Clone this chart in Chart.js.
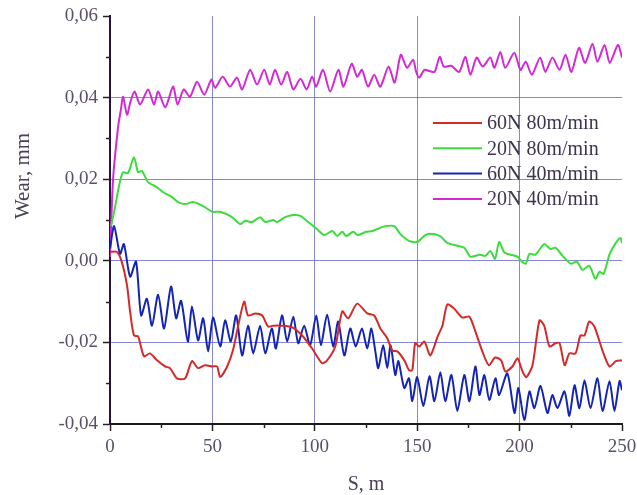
<!DOCTYPE html>
<html>
<head>
<meta charset="utf-8">
<script src="https://cdn.jsdelivr.net/npm/chart.js@4"></script>
<style>
  body { margin: 0; background: #fff; }
  canvas { display: block; }
</style>
</head>
<body>
<canvas id="wearChart" width="637" height="495"></canvas>
<script>
// sliding distance (m) and wear (mm) for each test
const sRed = [0, 3.3, 5.7, 8.3, 9.8, 11.7, 13.7, 16.6, 19.5, 23,
    26.9, 29.3, 32.7, 36.7, 40, 43, 46.4, 50, 52.3, 53.8,
    57.2, 60, 62.6, 65.5, 67.4, 70.9, 74.3, 77.2, 79.7, 84,
    89, 93.8, 98.7, 103.6, 106, 110, 113.4, 116.3, 120.7, 125.6,
    129, 132, 135.4, 137.8, 140.3, 143.7, 146, 147.6, 149, 151,
    153.5, 156.4, 160, 162.3, 164.7, 168, 172, 175.5, 178.4, 181.8,
    185, 188, 191, 193, 196.5, 199, 201.4, 203.3, 206.3, 209.7,
    212, 214.6, 217.5, 219.5, 222, 224.3, 227.3, 229.7, 231.7, 234,
    236.5, 240.5, 243.9, 247, 250];
const wearRed = [0.0022, 0.0022, -0.0002, -0.006, -0.0124, -0.0183, -0.0185, -0.0234, -0.0227, -0.0244,
    -0.0259, -0.0263, -0.0288, -0.0288, -0.0246, -0.0263, -0.0256, -0.0259, -0.0259, -0.0285,
    -0.0259, -0.022, -0.0159, -0.0100, -0.0134, -0.0129, -0.0134, -0.0161, -0.0159, -0.0159,
    -0.0163, -0.0183, -0.0215, -0.0251, -0.0244, -0.021, -0.0124, -0.0141, -0.0105, -0.0129,
    -0.0134, -0.0166, -0.019, -0.022, -0.0222, -0.0244, -0.0268, -0.0268, -0.0202, -0.021,
    -0.0198, -0.0232, -0.0185, -0.0159, -0.0107, -0.0117, -0.0139, -0.0137, -0.0173, -0.0222,
    -0.0256, -0.0237, -0.0244, -0.0271, -0.0259, -0.0239, -0.0271, -0.0285, -0.0256, -0.0146,
    -0.0159, -0.021, -0.0202, -0.0202, -0.0256, -0.0227, -0.0227, -0.0183, -0.0183, -0.0149,
    -0.0161, -0.022, -0.0259, -0.0246, -0.0244];

const sGreen = [0.5, 2, 4.9, 6.4, 8.8, 11.7, 13.7, 15.6, 18.6, 23,
    26, 30.3, 33.2, 36.7, 40.6, 45.5, 50, 53.8, 59.6, 63.5,
    66, 69.4, 73.3, 75.8, 79.7, 81.6, 85.5, 89.5, 92.9, 96.8,
    101, 104.6, 108.5, 111, 113.4, 115.4, 118.8, 121, 125, 128,
    131.5, 134.4, 138.8, 141.7, 146, 150, 153.5, 156, 161, 164.7,
    169.6, 173, 176, 180.4, 183.3, 185.7, 188, 190, 192.6, 195.5,
    199, 200.4, 203, 204.8, 207.7, 212, 215, 217.5, 221, 225,
    228, 230.7, 234, 237, 239, 241, 244, 247, 249.3, 250];
const wearGreen = [0.0085, 0.012, 0.0195, 0.0217, 0.0215, 0.0254, 0.0217, 0.022, 0.0193, 0.018,
    0.0168, 0.0156, 0.0144, 0.0139, 0.0144, 0.0134, 0.012, 0.012, 0.0107, 0.009,
    0.0098, 0.0095, 0.0107, 0.0095, 0.010, 0.0095, 0.0107, 0.0112, 0.011, 0.0095,
    0.0078, 0.0063, 0.0073, 0.0061, 0.0071, 0.0061, 0.0071, 0.0063, 0.0071, 0.0073,
    0.008, 0.0085, 0.0085, 0.0066, 0.0049, 0.0046, 0.0061, 0.0066, 0.0061, 0.0044,
    0.0037, 0.0032, 0.001, 0.0015, 0.0012, 0.0024, 0.0005, 0.0046, 0.002, 0.0015,
    0.001, 0.0002, -0.0007, 0.0017, 0.0015, 0.0041, 0.0029, 0.0032, 0.0012, -0.0007,
    -0.0002, -0.0022, -0.0012, -0.0044, -0.0027, -0.0032, 0.0017, 0.0044, 0.0056, 0.0043];

const sBlue = [0, 2, 4.9, 6.8, 9.8, 12.7, 15.2, 18, 20.5, 23.5,
    26.4, 29.8, 32.3, 34.7, 38, 40, 43, 45.5, 47.9, 50.3,
    53.8, 56.2, 59, 61.6, 64.5, 67.4, 69.9, 73.3, 75.8, 79,
    81, 84, 86.5, 89.5, 91.9, 94.8, 97.7, 100.7, 103, 106,
    109, 111.4, 114.4, 117.3, 120, 123, 125.6, 127.6, 129.5, 131,
    133.4, 135.4, 137, 139.3, 140.8, 143.7, 146, 147.6, 150, 153,
    156, 158.4, 161.3, 163.7, 166.7, 169.6, 173, 175.5, 178.4, 180.4,
    182.8, 185.2, 188.2, 190, 194, 197.5, 199.4, 202.3, 204.8, 207.2,
    210.2, 213.6, 216, 218.5, 221.9, 224.3, 226.8, 229.2, 231.7, 234.6,
    238, 240.5, 243.9, 246.3, 248.8, 250];
const wearBlue = [0.003, 0.0085, 0.0017, 0.0041, -0.0039, -0.0002, -0.0134, -0.0093, -0.0159, -0.0083,
    -0.0166, -0.0063, -0.0141, -0.0098, -0.0198, -0.0112, -0.0195, -0.0141, -0.0222, -0.0139,
    -0.021, -0.0146, -0.0198, -0.0134, -0.0232, -0.0159, -0.0227, -0.0159, -0.0227, -0.0166,
    -0.0215, -0.0134, -0.0198, -0.0137, -0.0202, -0.0159, -0.0207, -0.0134, -0.0207, -0.0132,
    -0.021, -0.0149, -0.0232, -0.0166, -0.021, -0.0166, -0.0215, -0.0166, -0.022, -0.0263,
    -0.0207, -0.0263, -0.0207, -0.028, -0.0246, -0.0312, -0.0288, -0.0344, -0.0285, -0.0356,
    -0.0283, -0.0344, -0.0273, -0.0344, -0.028, -0.0368, -0.028, -0.0344, -0.0259, -0.0329,
    -0.028, -0.0341, -0.0288, -0.0329, -0.0276, -0.0373, -0.0312, -0.039, -0.032, -0.0361,
    -0.0307, -0.0373, -0.0329, -0.0361, -0.032, -0.038, -0.0305, -0.0361, -0.0293, -0.0361,
    -0.0288, -0.0368, -0.0295, -0.0368, -0.0295, -0.0317];

const sMagenta = [0, 1.5, 4, 5.3, 6.4, 8.3, 10, 12, 14.7, 18.6,
    21.5, 23.5, 27, 30.8, 33, 36, 39, 42.5, 46, 49.5,
    51.3, 55, 58.6, 62, 64.5, 68.4, 71.8, 75.3, 78, 80.6,
    83.6, 86.5, 89.5, 93, 96, 98.7, 100.7, 104, 107.5, 111.5,
    114, 118, 120.7, 123, 126, 129, 132, 136, 139, 142,
    145, 148, 149.5, 151, 153.5, 156, 158.5, 161, 163, 166.6,
    170.5, 173.5, 176, 179, 182, 185.7, 187.7, 190.6, 193, 197.4,
    200.4, 203, 206, 210, 212.6, 216, 219.5, 222.4, 225.3, 229,
    232, 235.6, 238, 241.5, 244, 248, 250];
const wearMagenta = [0.001, 0.020, 0.033, 0.037, 0.0402, 0.0358, 0.039, 0.0415, 0.0383, 0.042,
    0.0383, 0.0415, 0.0376, 0.0427, 0.0383, 0.042, 0.0402, 0.0439, 0.0407, 0.0444,
    0.0424, 0.0451, 0.0427, 0.0449, 0.042, 0.0468, 0.0432, 0.0468, 0.0432, 0.0468,
    0.0432, 0.0463, 0.042, 0.0446, 0.042, 0.0451, 0.0427, 0.0468, 0.0415, 0.0468,
    0.0427, 0.0483, 0.0451, 0.0468, 0.0427, 0.0456, 0.0427, 0.0476, 0.0437, 0.0505,
    0.0473, 0.0493, 0.0463, 0.0449, 0.0468, 0.0465, 0.0463, 0.050, 0.0476, 0.0478,
    0.0463, 0.050, 0.0456, 0.0498, 0.0476, 0.0498, 0.0473, 0.0512, 0.0473, 0.051,
    0.0468, 0.0488, 0.0456, 0.0498, 0.0463, 0.0498, 0.0468, 0.0505, 0.0463, 0.0522,
    0.0485, 0.0532, 0.0488, 0.0529, 0.0485, 0.0529, 0.0498];

const seriesLabels = ['60N 80m/min', '20N 80m/min', '60N 40m/min', '20N 40m/min'];
const xTitle = 'S, m';
const yTitle = 'Wear, mm';

const serif = "'Liberation Serif', 'Times New Roman', serif";
const gridColor = 'rgba(95, 95, 200, 0.75)';
const tickText = '#5a5068';

function toPoints(s, w) {
    return s.map((x, i) => ({ x: x, y: w[i] }));
}

function makeSet(label, s, w, color) {
    return {
        label: label,
        data: toPoints(s, w),
        borderColor: color,
        backgroundColor: color,
        borderWidth: 2,
        pointRadius: 0,
        tension: 0.25,
        fill: false
    };
}

// minor ticks, axis titles and the in-plot legend
const extras = {
    id: 'extras',
    afterDraw(chart) {
        const c = chart.ctx;
        const xs = chart.scales.x;
        const ys = chart.scales.y;
        const area = chart.chartArea;
        c.save();

        c.strokeStyle = '#222';
        c.lineWidth = 1.5;
        for (let v = 25; v < 250; v += 50) {
            const px = Math.round(xs.getPixelForValue(v)) + 0.5;
            c.beginPath();
            c.moveTo(px, area.bottom);
            c.lineTo(px, area.bottom + 4);
            c.stroke();
        }
        for (let v = -0.03; v < 0.06; v += 0.02) {
            const py = Math.round(ys.getPixelForValue(v)) + 0.5;
            c.beginPath();
            c.moveTo(area.left, py);
            c.lineTo(area.left - 4, py);
            c.stroke();
        }

        c.fillStyle = '#4a4058';
        c.textAlign = 'center';
        c.textBaseline = 'middle';
        c.font = '20px ' + serif;
        c.fillText(xTitle, (area.left + area.right) / 2, 485);
        c.translate(23, 176);
        c.rotate(-Math.PI / 2);
        c.font = '21px ' + serif;
        c.fillText(yTitle, 0, 0);
        c.setTransform(1, 0, 0, 1, 0, 0);

        // legend box sits inside the plot, no frame
        const lx = area.left + 323;
        let ly = area.top + 107;
        c.font = '20px ' + serif;
        c.textAlign = 'left';
        chart.data.datasets.forEach(ds => {
            c.strokeStyle = ds.borderColor;
            c.lineWidth = 2;
            c.beginPath();
            c.moveTo(lx, ly);
            c.lineTo(lx + 49, ly);
            c.stroke();
            c.fillStyle = '#3e3450';
            c.fillText(ds.label, lx + 54, ly + 1);
            ly += 25.3;
        });
        c.restore();
    }
};

const wearChart = new Chart(document.getElementById('wearChart'), {
    type: 'line',
    data: {
        datasets: [
            makeSet(seriesLabels[0], sRed, wearRed, '#d42a2a'),
            makeSet(seriesLabels[1], sGreen, wearGreen, '#3ddc3d'),
            makeSet(seriesLabels[2], sBlue, wearBlue, '#1424b4'),
            makeSet(seriesLabels[3], sMagenta, wearMagenta, '#d42ad4')
        ]
    },
    options: {
        responsive: false,
        animation: false,
        layout: { padding: { top: 16, right: 15, left: 0, bottom: 0 } },
        plugins: {
            legend: { display: false },
            tooltip: { enabled: false }
        },
        scales: {
            x: {
                type: 'linear',
                min: 0,
                max: 250,
                ticks: {
                    stepSize: 50,
                    color: tickText,
                    padding: 5,
                    maxRotation: 0,
                    font: { family: serif, size: 19 }
                },
                grid: {
                    color: ctx => (ctx.tick && (ctx.tick.value === 0 || ctx.tick.value === 250)) ? 'rgba(0,0,0,0)' : gridColor,
                    lineWidth: 1,
                    tickColor: '#222',
                    tickLength: 7,
                    tickWidth: 1.5
                },
                border: { color: '#1b1b1b', width: 2 },
                // the last label may hang over the right edge
                afterFit: scale => {
                    scale.height = 71;
                    scale.paddingLeft = 0;
                    scale.paddingRight = 0;
                }
            },
            y: {
                min: -0.04,
                max: 0.06,
                ticks: {
                    stepSize: 0.02,
                    color: tickText,
                    padding: 5,
                    font: { family: serif, size: 19 },
                    callback: v => Number(v).toFixed(2).replace('.', ',')
                },
                grid: {
                    color: ctx => {
                        const v = ctx.tick ? ctx.tick.value : 0;
                        return (Math.abs(v + 0.04) < 1e-9 || Math.abs(v - 0.06) < 1e-9) ? 'rgba(0,0,0,0)' : gridColor;
                    },
                    lineWidth: 1,
                    tickColor: '#222',
                    tickLength: 7,
                    tickWidth: 1.5
                },
                border: { color: '#2a1240', width: 2 },
                afterFit: scale => {
                    scale.width = 110;
                    scale.paddingTop = 0;
                    scale.paddingBottom = 0;
                }
            }
        }
    },
    plugins: [extras]
});
</script>
</body>
</html>
